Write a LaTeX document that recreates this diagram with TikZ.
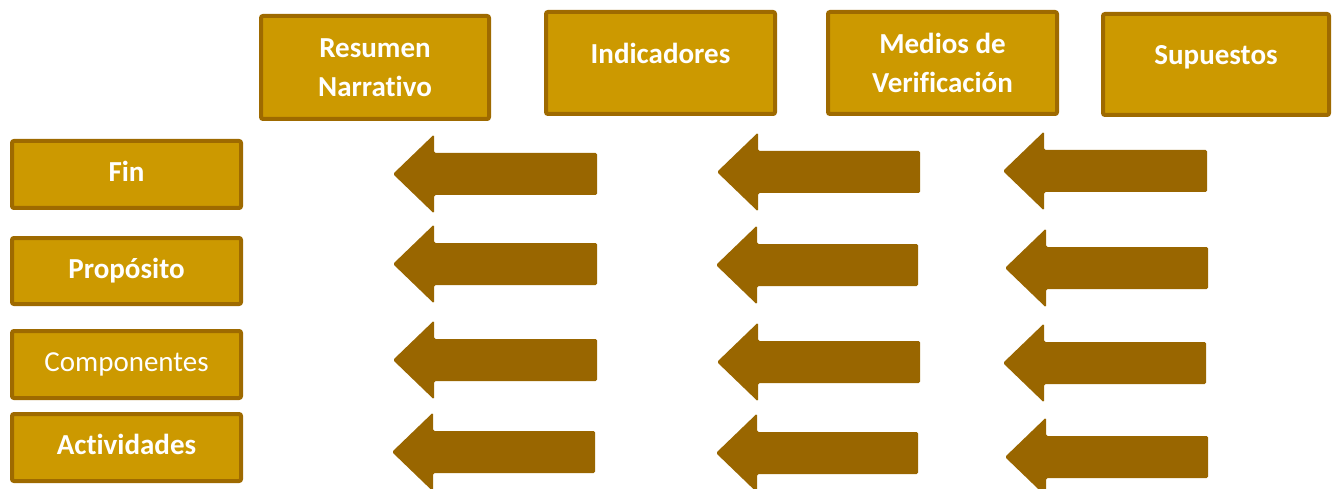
\documentclass[tikz,border=0pt]{standalone}
\usepackage{fontspec}
\setmainfont{Carlito}[Ligatures=NoCommon]
\definecolor{boxfill}{HTML}{CC9900}
\definecolor{boxline}{HTML}{9E6A00}
\definecolor{arrowc}{HTML}{996600}
\newcommand\mybrownarrow[3]{%
  \fill[arrowc, rounded corners=1.5pt] (#1+41,#2+39.5) -- (#1,#2) -- (#1+41,#2-39.5) -- (#1+41,#2-21) -- (#3,#2-21) -- (#3,#2+21) -- (#1+41,#2+21) -- cycle;}
\begin{document}
\begin{tikzpicture}[x=1pt,y=-1pt,
  box/.style={draw=boxline, line width=4pt, fill=boxfill, rounded corners=2pt,
    text=white, font=\fontsize{29}{39}\selectfont\bfseries, align=center, inner sep=0pt},
  plainbox/.style={box, font=\fontsize{29}{39}\selectfont}]
\useasboundingbox (0,0) rectangle (1333,489);
% header boxes
\node[box, minimum width=228pt, minimum height=103pt] (resumen) at (375,67.5) {Resumen\\Narrativo};
\node[box, minimum width=229pt, minimum height=102pt, text depth=20pt] (indic) at (660.5,63) {Indicadores};
\node[box, minimum width=229pt, minimum height=102pt] (medios) at (942.5,63) {Medios de\\Verificación};
\node[box, minimum width=226pt, minimum height=101pt, text depth=20pt] (supuestos) at (1216,64.5) {Supuestos};
% row boxes
\node[box, minimum width=229pt, minimum height=67pt, text depth=6pt] (fin) at (126.5,174.5) {Fin};
\node[box, minimum width=229pt, minimum height=66pt] (proposito) at (126.5,271) {Propósito};
\node[plainbox, minimum width=229pt, minimum height=67pt] (componentes) at (126.5,364.5) {Componentes};
\node[box, minimum width=229pt, minimum height=67pt, text depth=6pt] (actividades) at (126.5,447.5) {Actividades};
% arrows
\mybrownarrow{393}{174}{597}
\mybrownarrow{717}{172}{920}
\mybrownarrow{1003}{171}{1207}
\mybrownarrow{393}{264}{597}
\mybrownarrow{716}{265}{918}
\mybrownarrow{1005}{268}{1208}
\mybrownarrow{393}{360}{597}
\mybrownarrow{717}{362}{920}
\mybrownarrow{1003}{363}{1206}
\mybrownarrow{392}{452}{595}
\mybrownarrow{716}{453}{918}
\mybrownarrow{1005}{457}{1208}
\end{tikzpicture}
\end{document}
